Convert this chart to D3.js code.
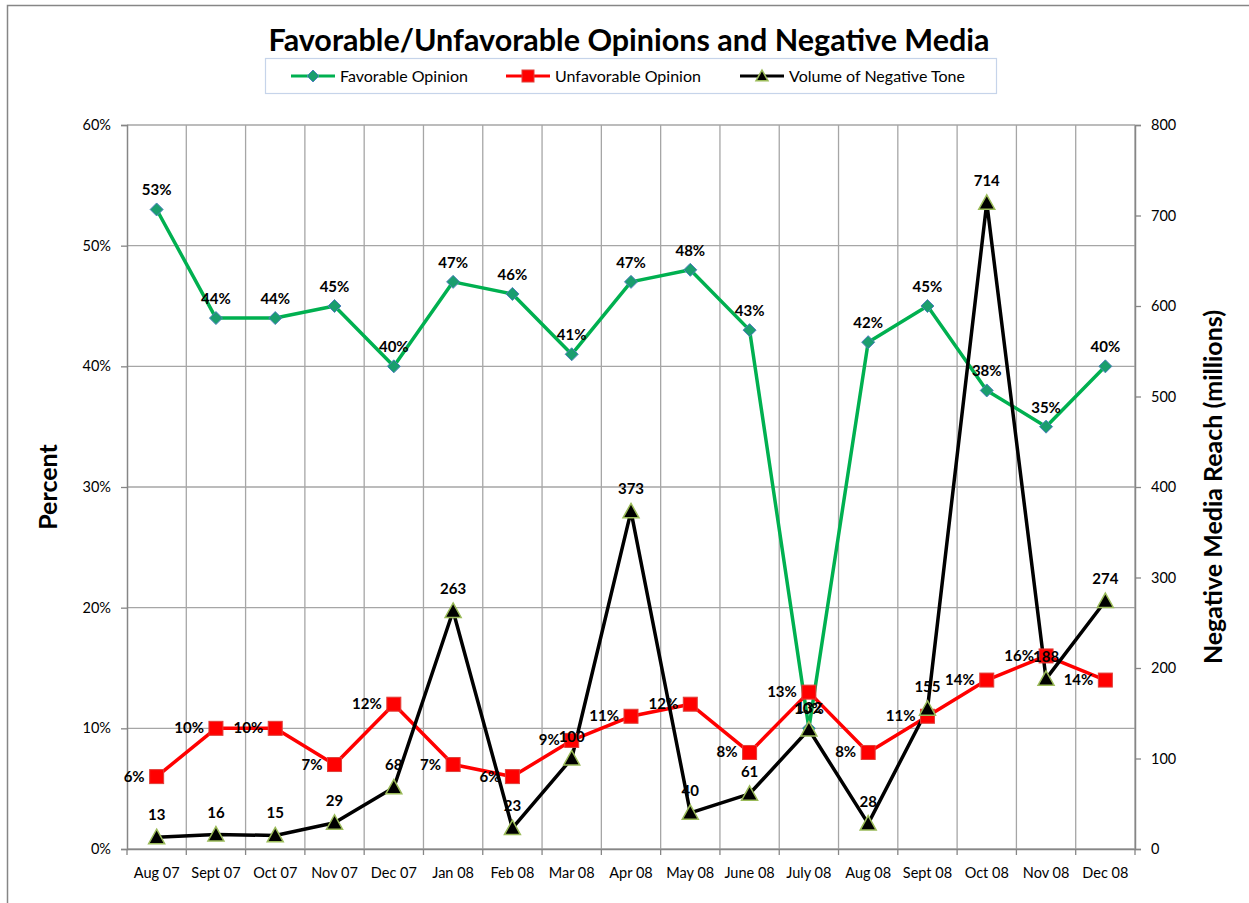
<!DOCTYPE html>
<html><head><meta charset="utf-8">
<script src="https://cdn.jsdelivr.net/npm/d3@7"></script>
<style>body{margin:0;background:#fff;}svg{display:block;font-family:Lato,"Open Sans",sans-serif;}</style>
</head><body>
<svg id="c" width="1249" height="903"></svg>
<script>
const categories = ["Aug 07","Sept 07","Oct 07","Nov 07","Dec 07","Jan 08","Feb 08","Mar 08","Apr 08","May 08","June 08","July 08","Aug 08","Sept 08","Oct 08","Nov 08","Dec 08"];
const favorable = [53,44,44,45,40,47,46,41,47,48,43,10,42,45,38,35,40];
const unfavorable = [6,10,10,7,12,7,6,9,11,12,8,13,8,11,14,16,14];
const negVolume = [13,16,15,29,68,263,23,100,373,40,61,132,28,155,714,188,274];
const leftTicks = [0,10,20,30,40,50,60];
const rightTicks = [0,100,200,300,400,500,600,700,800];

const svg = d3.select("#c");
const L = 127, R = 1135, T = 125, B = 849;

svg.append("rect").attr("x",7.5).attr("y",5.5).attr("width",1260).attr("height",920)
  .attr("fill","none").attr("stroke","#868686").attr("stroke-width",1.5);

const x = d3.scaleBand().domain(categories).range([L,R]);
const yL = d3.scaleLinear().domain([0,60]).range([B,T]);
const yR = d3.scaleLinear().domain([0,800]).range([B,T]);
const cx = d => x(d) + x.bandwidth()/2;

// gridlines
const grid = svg.append("g").attr("stroke","#a6a6a6").attr("stroke-width",1.3);
leftTicks.forEach(t => grid.append("line").attr("x1",L).attr("x2",R).attr("y1",yL(t)).attr("y2",yL(t)));
categories.forEach((c,i) => { if(i>0) grid.append("line").attr("x1",x(c)).attr("x2",x(c)).attr("y1",T).attr("y2",B); });
grid.append("line").attr("x1",R).attr("x2",R).attr("y1",T).attr("y2",B);

// axes
const axL = svg.append("g").attr("transform",`translate(${L},0)`)
  .call(d3.axisLeft(yL).tickValues(leftTicks).tickFormat(d=>d+"%").tickSize(6).tickPadding(10));
const axR = svg.append("g").attr("transform",`translate(${R},0)`)
  .call(d3.axisRight(yR).tickValues(rightTicks).tickSize(6).tickPadding(10));
const axB = svg.append("g").attr("transform",`translate(0,${B})`)
  .call(d3.axisBottom(x).tickSize(0).tickPadding(19));
categories.concat([null]).forEach((c,i)=>{
  const xx = c ? x(c) : R;
  svg.append("line").attr("x1",xx).attr("x2",xx).attr("y1",B).attr("y2",B+6).attr("stroke","#868686").attr("stroke-width",1.3);
});
[axL,axR,axB].forEach(a=>{
  a.selectAll("path.domain").attr("stroke","#868686").attr("stroke-width",1.5);
  a.selectAll(".tick line").attr("stroke","#868686").attr("stroke-width",1.3);
  a.selectAll("text").attr("font-size",14.5).attr("fill","#000").attr("font-family","Lato, sans-serif");
});
axB.select("path.domain").attr("d",`M${L},0.5H${R}`);

// title
svg.append("text").attr("x",629).attr("y",51).attr("text-anchor","middle")
  .attr("font-size",30.5).attr("font-weight","bold").text("Favorable/Unfavorable Opinions and Negative Media");

// axis titles
svg.append("text").attr("transform","translate(57,487) rotate(-90)").attr("text-anchor","middle")
  .attr("font-size",25).attr("font-weight","bold").text("Percent");
svg.append("text").attr("transform","translate(1222,487) rotate(-90)").attr("text-anchor","middle")
  .attr("font-size",25).attr("font-weight","bold").text("Negative Media Reach (millions)");

// legend
svg.append("rect").attr("x",265.5).attr("y",58.5).attr("width",731).attr("height",35)
  .attr("fill","#fff").attr("stroke","#c6d4ea").attr("stroke-width",1.2);

const green="#00b050", red="#ff0000";
function diamond(g,px,py,s){ g.append("path").attr("d",`M${px},${py-s}L${px+s},${py}L${px},${py+s}L${px-s},${py}Z`).attr("fill","#1a9e6e").attr("stroke","#4f81bd").attr("stroke-width",1); }
function square(g,px,py,s){ g.append("rect").attr("x",px-s).attr("y",py-s).attr("width",2*s).attr("height",2*s).attr("fill",red).attr("stroke","#e0403a").attr("stroke-width",1); }
function tri(g,px,py,s){ g.append("path").attr("d",`M${px},${py-s}L${px+s},${py+s*0.8}L${px-s},${py+s*0.8}Z`).attr("fill","#000").attr("stroke","#9bbb59").attr("stroke-width",1.5); }

const leg = svg.append("g");
const legItems = [
  {lx:313, label:"Favorable Opinion", color:green, m:diamond},
  {lx:528, label:"Unfavorable Opinion", color:red, m:square},
  {lx:762, label:"Volume of Negative Tone", color:"#000", m:tri}
];
legItems.forEach(it=>{
  leg.append("line").attr("x1",it.lx-22).attr("x2",it.lx+22).attr("y1",76).attr("y2",76).attr("stroke",it.color).attr("stroke-width",3);
  it.m(leg,it.lx,76,6);
  leg.append("text").attr("x",it.lx+27).attr("y",81.5).attr("font-size",16).text(it.label);
});

// lines
function drawLine(vals, y, color){
  svg.append("path").datum(vals)
    .attr("d", d3.line().x((d,i)=>cx(categories[i])).y(d=>y(d)))
    .attr("fill","none").attr("stroke",color).attr("stroke-width",3.5).attr("stroke-linejoin","round");
}
drawLine(favorable, yL, green);
drawLine(unfavorable, yL, red);
drawLine(negVolume, yR, "#000");

const mg = svg.append("g");
favorable.forEach((v,i)=>diamond(mg,cx(categories[i]),yL(v),6.5));
unfavorable.forEach((v,i)=>square(mg,cx(categories[i]),yL(v),7));
negVolume.forEach((v,i)=>tri(mg,cx(categories[i]),yR(v),8));

// data labels
const lg = svg.append("g").attr("font-size",15).attr("font-weight","bold").attr("fill","#000");
favorable.forEach((v,i)=>lg.append("text").attr("x",cx(categories[i])).attr("y",yL(v)-14).attr("text-anchor","middle").text(v+"%"));
unfavorable.forEach((v,i)=>lg.append("text").attr("x",cx(categories[i])-12).attr("y",yL(v)+5).attr("text-anchor","end").text(v+"%"));
negVolume.forEach((v,i)=>lg.append("text").attr("x",cx(categories[i])).attr("y",yR(v)-17).attr("text-anchor","middle").text(v));
</script>
</body></html>
